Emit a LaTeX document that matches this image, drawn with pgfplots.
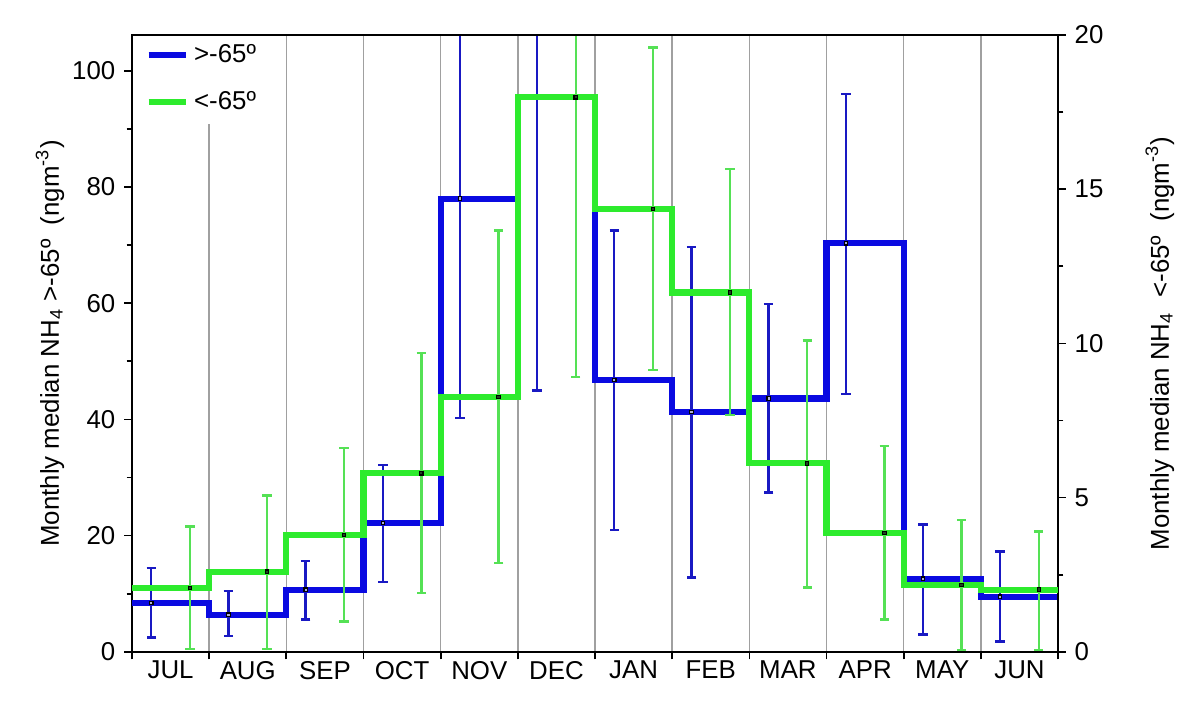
\documentclass[border=0pt]{standalone}
\usepackage{fontspec}
\setmainfont{Liberation Sans}
\usepackage{pgfplots}
\usepackage{pgfplotstable}
\pgfplotsset{compat=1.18}
\definecolor{bl}{RGB}{10,10,225}
\definecolor{blerr}{RGB}{25,25,195}
\definecolor{gr}{RGB}{45,235,45}
\definecolor{grerr}{RGB}{85,225,85}
\definecolor{gridc}{RGB}{160,160,160}
\definecolor{blmk}{RGB}{175,175,215}
\definecolor{grmk}{RGB}{30,70,30}

% blue series (> -65 deg), left axis: month index, median, lower, upper
\pgfplotstableread{
m med lo hi
0 8.4 2.5 14.4
1 6.4 2.7 10.5
2 10.7 5.6 15.6
3 22.2 12.0 32.2
4 78.0 40.2 115
5 95.5 45.0 120
6 46.8 21.0 72.5
7 41.3 12.8 69.7
8 43.6 27.4 59.9
9 70.3 44.4 96.0
10 12.6 3.0 21.9
11 9.5 1.8 17.3
12 9.5 9.5 9.5
}\bluedata

% green series (< -65 deg), right axis
\pgfplotstableread{
m med lo hi
0 2.07 0.10 4.07
1 2.60 0.10 5.07
2 3.79 0.98 6.60
3 5.79 1.90 9.69
4 8.27 2.89 13.66
5 17.98 8.92 21.5
6 14.35 9.14 19.59
7 11.65 7.69 15.65
8 6.11 2.09 10.09
9 3.85 1.05 6.68
10 2.17 0.07 4.28
11 2.02 0.07 3.90
12 2.02 2.02 2.02
}\greendata

\begin{document}
\fontsize{9.3pt}{11pt}\selectfont
\begin{tikzpicture}
\pgfplotsset{
  common/.style={
    scale only axis, width=333.4pt, height=222.1pt,
    xmin=0, xmax=12,
    tick align=outside,
    major tick length=2.7pt, minor tick length=1.9pt,
    axis line style={line width=0.7pt},
    tick style={black, line width=0.6pt},
    /pgf/number format/assume math mode=true,
    tick label style={font=\fontsize{9.3pt}{11pt}\selectfont},
    label style={font=\fontsize{9.3pt}{11pt}\selectfont},
    clip=true,
  },
}
\begin{axis}[common,
  ymin=0, ymax=106.15,
  ytick={0,20,...,100}, minor y tick num=1, ytick pos=left,
  xtick={0,...,12}, xticklabels={}, xtick pos=left,
  xmajorgrids, grid style={gridc, line width=0.5pt},
  extra x ticks={0.5,1.5,2.5,3.5,4.5,5.5,6.5,7.5,8.5,9.5,10.5,11.5},
  extra x tick labels={JUL,AUG,SEP,OCT,NOV,DEC,JAN,FEB,MAR,APR,MAY,JUN},
  extra x tick style={major tick length=0pt, grid=none},
  ylabel={Monthly median NH\textsubscript{4} >-65º~~(ngm\textsuperscript{-3})},
  ylabel style={at={(axis description cs:-0.0886,0.5)}, anchor=center},
]
\coordinate (SW) at (rel axis cs:0,0);
\coordinate (NE) at (rel axis cs:1,1);
\addplot[const plot, bl, line width=2.2pt, forget plot] table[x=m, y=med]{\bluedata};
\addplot[only marks, mark=square*, mark size=0.6pt, mark options={fill=blmk, draw=none},
  forget plot, skip coords between index={12}{13},
  error bars/.cd, y dir=both, y explicit, error mark=-,
  error bar style={blerr, line width=0.85pt},
  error mark options={rotate=90, blerr, mark size=1.7pt, line width=0.85pt}]
  table[x expr=\thisrow{m}+0.25, y=med,
        y error plus expr=\thisrow{hi}-\thisrow{med},
        y error minus expr=\thisrow{med}-\thisrow{lo}]{\bluedata};
\end{axis}

\begin{axis}[common,
  ymin=0, ymax=20,
  ytick={0,5,...,20}, minor y tick num=1,
  axis y line*=right, axis x line=none,
  ylabel={Monthly median NH\textsubscript{4}~~<-65º~~(ngm\textsuperscript{-3})},
  ylabel style={at={(axis description cs:1.110,0.5)}, anchor=center},
  legend style={at={(axis description cs:0.005,0.995)}, anchor=north west, yshift=2pt,
    draw=none, fill=white, row sep=5pt,
    font=\fontsize{9.3pt}{11pt}\selectfont},
  legend cell align=left,
  legend image code/.code={\draw[#1] (0pt,0pt) -- (13.3pt,0pt);},
]
\addlegendimage{bl, line width=2.2pt}
\addlegendentry{>-65º}
\addlegendimage{gr, line width=2.2pt}
\addlegendentry{<-65º}
\addplot[const plot, gr, line width=2.2pt, forget plot] table[x=m, y=med]{\greendata};
\addplot[only marks, mark=square*, mark size=0.6pt, mark options={fill=grmk, draw=none},
  forget plot, skip coords between index={12}{13},
  error bars/.cd, y dir=both, y explicit, error mark=-,
  error bar style={grerr, line width=0.85pt},
  error mark options={rotate=90, grerr, mark size=1.7pt, line width=0.85pt}]
  table[x expr=\thisrow{m}+0.75, y=med,
        y error plus expr=\thisrow{hi}-\thisrow{med},
        y error minus expr=\thisrow{med}-\thisrow{lo}]{\greendata};
\end{axis}
\draw[line width=0.7pt] (SW |- NE) -- (NE);
\pgfresetboundingbox
\path ([shift={(-47.52pt,-23.65pt)}]SW) rectangle ([shift={(51.12pt,12.6pt)}]NE);
\end{tikzpicture}
\end{document}
